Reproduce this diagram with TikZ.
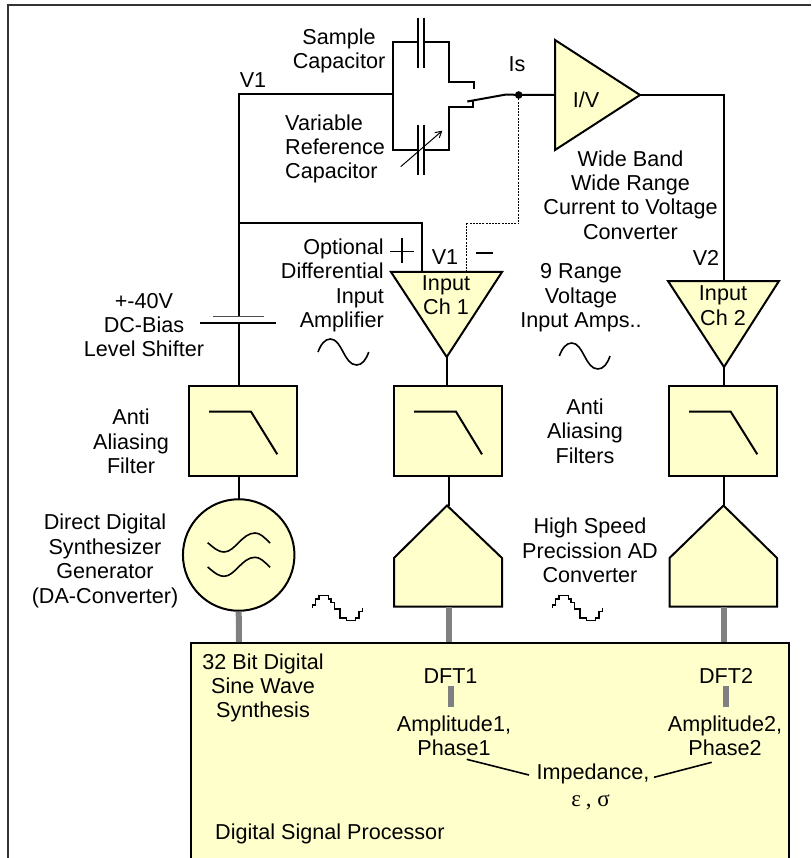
\documentclass[tikz,border=0pt]{standalone}
\usepackage{fontspec}
\usetikzlibrary{arrows.meta}
\setmainfont{Liberation Sans}
\newfontfamily\serifsym{Liberation Serif}
\definecolor{boxfill}{HTML}{FFFFCC}
\definecolor{busgray}{HTML}{808080}
\tikzset{
  lab/.style={inner sep=0pt,font=\fontsize{21.6}{24.4}\selectfont,align=center},
  labr/.style={lab,align=right},
  labl/.style={lab,align=left},
  block/.style={draw=black,fill=boxfill,line width=2pt,line join=miter},
  wire/.style={draw=black,line width=2pt},
  bus/.style={draw=busgray,line width=6pt},
  thin wire/.style={draw=black,line width=1.6pt},
  dots/.style={draw=black,line width=1pt,dash pattern=on 2pt off 1.2pt},
}
\begin{document}
\begin{tikzpicture}[x=1pt,y=-1pt]
\useasboundingbox (0,0) rectangle (811,858);
\clip (0,0) rectangle (811,858);
\fill[white] (0,0) rectangle (811,858);
% frame, open at right and bottom
\draw[line width=2pt,black!80] (811,5) -- (7.5,5) -- (7.5,858);

% named points
\coordinate (vone) at (239,94);
\coordinate (tap) at (239,223.5);
\coordinate (capL) at (393,94);
\coordinate (batTop) at (239,317);
\coordinate (batBot) at (239,323);

% DSP
\node[block,minimum width=598pt,minimum height=240pt,anchor=north west,inner sep=0pt] (dsp) at (190,642) {};

% filters
\node[block,minimum width=108pt,minimum height=90.5pt,inner sep=0pt] (f0) at (243,430.8) {};
\node[block,minimum width=108pt,minimum height=90.5pt,inner sep=0pt] (f1) at (448,430.8) {};
\node[block,minimum width=108pt,minimum height=90.5pt,inner sep=0pt] (f2) at (723,430.8) {};
\draw[wire] (209,411.7) -- (251,411.7) -- (277.3,454.3);
\draw[wire] (414,411.7) -- (456,411.7) -- (482,454.3);
\draw[wire] (689,411.7) -- (730.7,411.7) -- (757.3,454.3);

% DDS circle
\node[block,circle,minimum size=111.5pt,inner sep=0pt] (dds) at (238.7,555) {};
\foreach \d in {0,24.3}{
  \draw[thin wire] (207.7,542.7+\d) .. controls (215,549+\d) and (219,552+\d) .. (224,552+\d)
    .. controls (235,552+\d) and (242,533+\d) .. (255,533+\d)
    .. controls (260,533+\d) and (264,537+\d) .. (270,543+\d);
}

% ADCs
\draw[block] (447,505.5) -- (502,558) -- (502,606.7) -- (394,606.7) -- (394,558) -- cycle;
\coordinate (adc1top) at (448.7,505.5);
\coordinate (adc1bot) at (448.7,606.7);
\draw[block] (723.5,505.5) -- (777,558) -- (777,606.7) -- (669.5,606.7) -- (669.5,558) -- cycle;
\coordinate (adc2top) at (724,505.5);
\coordinate (adc2bot) at (724,606.7);

% input triangles
\draw[block] (391,272) -- (502,272) -- (446.7,357) -- cycle;
\coordinate (ch1apex) at (446.7,357);
\draw[block] (668,281) -- (779,281) -- (724,367) -- cycle;
\coordinate (ch2apex) at (724,367);

% I/V
\draw[block] (555,40) -- (640,95) -- (555,150) -- cycle;

% buses
\draw[bus] (dds.south) -- (239,642);
\draw[bus] (adc1bot) -- (448.7,642);
\draw[bus] (adc2bot) -- (724,642);
\draw[bus] (451,685.7) -- (451,706.7);
\draw[bus] (726,685.7) -- (726,706.7);

% wiring
\draw[wire] (capL) -- (vone) -- (batTop);
\draw[wire] (batBot) -- (239,385.5);
\draw[wire] (tap) -- (421.7,223.5) -- (421.7,272);
\draw[wire] (239,476) -- (239,499.5);
\draw[wire] (446.7,357) -- (446.7,385.5);
\draw[wire] (448.7,476) -- (448.7,505.5);
\draw[wire] (724,367) -- (724,385.5);
\draw[wire] (724,476) -- (724,505.5);
\draw[wire] (640,95) -- (723.5,95) -- (723.5,281);

% DC bias capacitor
\draw[line width=1.5pt,black!70] (213,316.7) -- (264,316.7);
\draw[wire] (200,322.7) -- (276,322.7);

% capacitor block
\draw[wire] (418,42.3) -- (392.7,42.3) -- (392.7,150) -- (418,150);
\draw[wire] (424.3,42.3) -- (449,42.3) -- (449,82.3) -- (474,82.3) -- (474,89);
\draw[wire] (424.3,150) -- (449,150) -- (449,107.3) -- (473.3,107.3) -- (473.3,101);
\draw[wire] (418,17.7) -- (418,67.7);
\draw[wire] (424.3,17.7) -- (424.3,67.7);
\draw[wire] (418,125) -- (418,175);
\draw[wire] (424.3,125) -- (424.3,175);
\draw[thin wire,line width=1pt,->,>={Straight Barb[length=6pt,width=7pt]}] (400.7,166.7) -- (442.3,130.7);
\draw[wire] (467.3,101.5) -- (505,94.7) -- (555,95);
\fill (518.7,95) circle (3.8pt);
\node[inner sep=0pt,minimum size=0pt] (isdot) at (518.7,95) {};
\draw[dots] (isdot) -- (518.7,224) -- (466.7,224) -- (466.7,272);

% plus, minus
\draw[thin wire] (390,251.7) -- (414.3,251.7);
\draw[thin wire] (401.7,238) -- (401.7,263);
\draw[thin wire] (475.7,253.3) -- (492.7,253.3);

% sines
\foreach \x/\y in {318/352,559.3/356}{
  \begin{scope}[shift={(\x pt,-\y pt)}]
    \draw[thin wire] (0,0) .. controls (3,-8) and (7,-13) .. (12.5,-13)
      .. controls (24,-13) and (26,13) .. (38.5,13)
      .. controls (44,13) and (48,8) .. (50.7,0);
  \end{scope}
}
% stepped sines
\foreach \x in {170,410}{
  \begin{scope}[shift={(\x pt,-470pt)},x=0.3333pt,y=-0.3333pt]
    \draw[thin wire] (428,415) |- (437,405) |- (447,387) |- (475,377) |- (483,387) |- (493,397) |- (510,417) |- (530,444) |- (557,452) |- (567,444) |- (577,425) -- (577,414);
  \end{scope}
}

% DSP result lines
\node[lab] (a1) at (454,736) {Amplitude1,\\Phase1};
\node[lab] (a2) at (725,736) {Amplitude2,\\Phase2};
\node[lab] (imp) at (593,774) {Impedance,};
\coordinate (l1a) at (466.7,759.3);
\coordinate (l1b) at (529,775);
\coordinate (l2a) at (711.7,762.3);
\coordinate (l2b) at (654,777.3);
\draw[thin wire] (l1a) -- (l1b);
\draw[thin wire] (l2a) -- (l2b);
\node[lab,font=\serifsym\fontsize{23}{24}\selectfont] (eps) at (591,802) {ε\raisebox{10pt}{\fontsize{4}{4}\selectfont .}\,, σ\raisebox{10pt}{\fontsize{4}{4}\selectfont .}};

% labels
\node[lab] (t1) at (339,51) {Sample\\Capacitor};
\node[lab] (t2) at (253,80) {V1};
\node[lab] (t3) at (517,64) {Is};
\node[labl,anchor=west] (t4) at (285,149) {Variable\\Reference\\Capacitor};
\node[lab] (t5) at (586,100) {I/V};
\node[lab] (t6) at (630.5,195) {Wide Band\\Wide Range\\Current to Voltage\\Converter};
\node[lab] (t7) at (706,258) {V2};
\node[labr,anchor=east] (t8) at (384,285.5) {Optional\\Differential\\Input\\Amplifier};
\node[lab] (t9) at (445,257) {V1};
\node[lab] (t10) at (446,295) {Input\\Ch 1};
\node[lab] (t11) at (723,305.5) {Input\\Ch 2};
\node[lab] (t12) at (144,325) {+-40V\\DC-Bias\\Level Shifter};
\node[lab] (t13) at (131,441.5) {Anti\\Aliasing\\Filter};
\node[lab] (t14) at (105,561) {Direct Digital\\Synthesizer\\Generator\\(DA-Converter)};
\node[lab] (t15) at (581,298) {9 Range\\Voltage\\Input Amps..};
\node[lab] (t16) at (585,431) {Anti\\Aliasing\\Filters};
\node[lab] (t17) at (590,550.5) {High Speed\\Precission AD\\Converter};
\node[lab] (t18) at (263,688) {32 Bit Digital\\Sine Wave\\Synthesis};
\node[lab] (t19) at (450.5,676) {DFT1};
\node[lab] (t20) at (726,676) {DFT2};
\node[lab,anchor=west] (t21) at (215,834) {Digital Signal Processor};
\end{tikzpicture}
\end{document}
